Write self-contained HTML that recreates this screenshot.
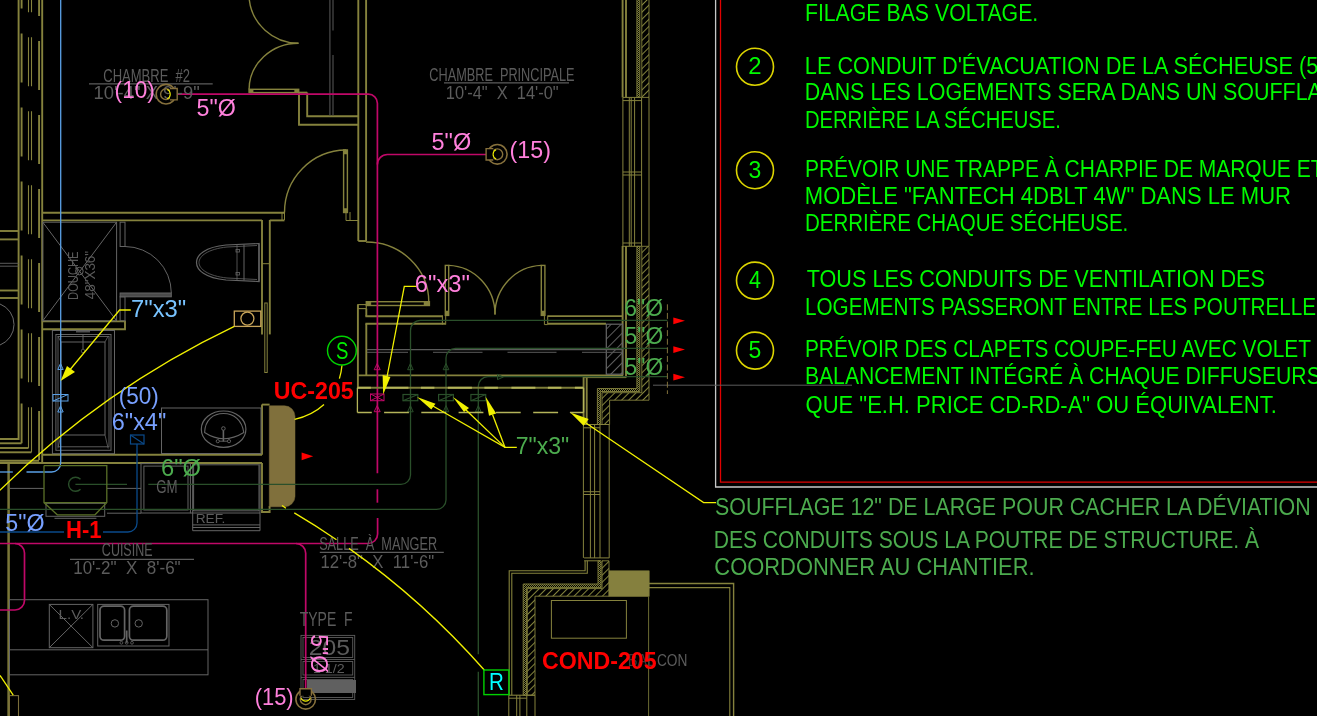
<!DOCTYPE html>
<html><head><meta charset="utf-8"><title>CAD</title>
<style>
html,body{margin:0;padding:0;background:#000;overflow:hidden}
svg{display:block;will-change:transform}
text{font-family:"Liberation Sans",sans-serif;white-space:pre}
</style></head><body>
<svg width="1317" height="716" viewBox="0 0 1317 716">
<rect x="0" y="0" width="1317" height="716" fill="#000"/>
<g id="notes">
<polyline points="715.6,0 715.6,487 1317,487" fill="none" stroke="#c8c8c8" stroke-width="1.3" />
<polyline points="720.5,0 720.5,482.2 1317,482.2" fill="none" stroke="#e00000" stroke-width="1.3" />
<line x1="653" y1="385.2" x2="852" y2="385.2" stroke="#5c5c5c" stroke-width="1" />
<text x="804.88" y="21" font-size="24.7" fill="#00fa00" font-weight="normal" textLength="233.38" lengthAdjust="spacingAndGlyphs" >FILAGE BAS VOLTAGE.</text>
<text x="804.84" y="74" font-size="24.7" fill="#00fa00" font-weight="normal" textLength="551.25" lengthAdjust="spacingAndGlyphs" >LE CONDUIT D'ÉVACUATION DE LA SÉCHEUSE (5" Ø)</text>
<text x="804.86" y="100" font-size="24.7" fill="#00fa00" font-weight="normal" textLength="548.02" lengthAdjust="spacingAndGlyphs" >DANS LES LOGEMENTS SERA DANS UN SOUFFLAGE</text>
<text x="804.96" y="128" font-size="24.7" fill="#00fa00" font-weight="normal" textLength="255.88" lengthAdjust="spacingAndGlyphs" >DERRIÈRE LA SÉCHEUSE.</text>
<text x="804.9" y="177" font-size="24.7" fill="#00fa00" font-weight="normal" textLength="518.62" lengthAdjust="spacingAndGlyphs" >PRÉVOIR UNE TRAPPE À CHARPIE DE MARQUE ET</text>
<text x="804.82" y="204" font-size="24.7" fill="#00fa00" font-weight="normal" textLength="486.19" lengthAdjust="spacingAndGlyphs" >MODÈLE "FANTECH 4DBLT 4W" DANS LE MUR</text>
<text x="804.94" y="231" font-size="24.7" fill="#00fa00" font-weight="normal" textLength="323.31" lengthAdjust="spacingAndGlyphs" >DERRIÈRE CHAQUE SÉCHEUSE.</text>
<text x="806.72" y="287" font-size="24.7" fill="#00fa00" font-weight="normal" textLength="458.26" lengthAdjust="spacingAndGlyphs" >TOUS LES CONDUITS DE VENTILATION DES</text>
<text x="804.92" y="315" font-size="24.7" fill="#00fa00" font-weight="normal" textLength="525.05" lengthAdjust="spacingAndGlyphs" >LOGEMENTS PASSERONT ENTRE LES POUTRELLES</text>
<text x="804.91" y="357" font-size="24.7" fill="#00fa00" font-weight="normal" textLength="506.06" lengthAdjust="spacingAndGlyphs" >PRÉVOIR DES CLAPETS COUPE-FEU AVEC VOLET</text>
<text x="804.89" y="384" font-size="24.7" fill="#00fa00" font-weight="normal" textLength="515.89" lengthAdjust="spacingAndGlyphs" >BALANCEMENT INTÉGRÉ À CHAQUE DIFFUSEURS</text>
<text x="805.58" y="413" font-size="24.7" fill="#00fa00" font-weight="normal" textLength="471.22" lengthAdjust="spacingAndGlyphs" >QUE "E.H. PRICE CD-RD-A" OU ÉQUIVALENT.</text>
<circle cx="755" cy="66.8" r="18.5" fill="none" stroke="#dcd400" stroke-width="1.6"/>
<text x="748.29" y="74.2" font-size="24.7" fill="#00fa00" font-weight="normal" textLength="13.31" lengthAdjust="spacingAndGlyphs" >2</text>
<circle cx="755" cy="170.2" r="18.5" fill="none" stroke="#dcd400" stroke-width="1.6"/>
<text x="748.61" y="177.6" font-size="24.7" fill="#00fa00" font-weight="normal" textLength="12.8" lengthAdjust="spacingAndGlyphs" >3</text>
<circle cx="755" cy="280.6" r="18.5" fill="none" stroke="#dcd400" stroke-width="1.6"/>
<text x="749.02" y="288.0" font-size="24.7" fill="#00fa00" font-weight="normal" textLength="11.98" lengthAdjust="spacingAndGlyphs" >4</text>
<circle cx="755" cy="350.6" r="18.5" fill="none" stroke="#dcd400" stroke-width="1.6"/>
<text x="748.57" y="358.0" font-size="24.7" fill="#00fa00" font-weight="normal" textLength="12.8" lengthAdjust="spacingAndGlyphs" >5</text>
<text x="715.02" y="514.5" font-size="24" fill="#4cab4e" font-weight="normal" textLength="595.71" lengthAdjust="spacingAndGlyphs" >SOUFFLAGE 12" DE LARGE POUR CACHER LA DÉVIATION</text>
<text x="713.69" y="547.8" font-size="24" fill="#4cab4e" font-weight="normal" textLength="545.37" lengthAdjust="spacingAndGlyphs" >DES CONDUITS SOUS LA POUTRE DE STRUCTURE. À</text>
<text x="714.3" y="574.5" font-size="24" fill="#4cab4e" font-weight="normal" textLength="320.36" lengthAdjust="spacingAndGlyphs" >COORDONNER AU CHANTIER.</text>
</g>
<g id="walls" fill="none">
<polyline points="18.6,0 18.6,439 0,439" fill="none" stroke="#85823d" stroke-width="1.9" />
<path d="M21.6,-40.5 V443.3" stroke="#85823d" stroke-width="1.9" stroke-dasharray="49 25"/>
<line x1="0" y1="443.3" x2="21.6" y2="443.3" stroke="#85823d" stroke-width="1.9" />
<path d="M28.5,-36.8 V448" stroke="#85823d" stroke-width="1.1" stroke-dasharray="49 25"/>
<line x1="0" y1="448" x2="28.5" y2="448" stroke="#85823d" stroke-width="1.9" />
<path d="M31.5,-36.8 V452.3" stroke="#85823d" stroke-width="1.1" stroke-dasharray="49 25"/>
<line x1="0" y1="452.3" x2="31.5" y2="452.3" stroke="#85823d" stroke-width="1.9" />
<path d="M39.1,-33 V460.8" stroke="#85823d" stroke-width="1.9" stroke-dasharray="49 25"/>
<line x1="0" y1="460.8" x2="39.1" y2="460.8" stroke="#85823d" stroke-width="1.9" />
<polyline points="42.2,0 42.2,463" fill="none" stroke="#85823d" stroke-width="1.9" />
<line x1="0" y1="231" x2="18.5" y2="231" stroke="#85823d" stroke-width="1.9" />
<line x1="0" y1="239.4" x2="18.5" y2="239.4" stroke="#85823d" stroke-width="1.9" />
<line x1="0" y1="290.5" x2="18.5" y2="290.5" stroke="#85823d" stroke-width="1.9" />
<line x1="0" y1="298" x2="18.5" y2="298" stroke="#85823d" stroke-width="1.9" />
<line x1="0" y1="263.3" x2="18.5" y2="263.3" stroke="#5a5a5a" stroke-width="1" />
<line x1="0" y1="266.2" x2="18.5" y2="266.2" stroke="#5a5a5a" stroke-width="1" />
<path d="M0,304 A22,22 0 0 1 0,345" fill="none" stroke="#6a6a6a" stroke-width="1" />
<line x1="8.6" y1="463" x2="8.6" y2="716" stroke="#7a7638" stroke-width="2.5" />
<rect x="9.4" y="695.6" width="9.1" height="30" fill="none" stroke="#7a6e3a" stroke-width="1.1" />
<polyline points="42,212.7 284.5,212.7" fill="none" stroke="#85823d" stroke-width="1.9" />
<polyline points="42,220.4 262,220.4" fill="none" stroke="#85823d" stroke-width="1.9" />
<line x1="269.8" y1="220.4" x2="284.5" y2="220.4" stroke="#85823d" stroke-width="1.9" />
<polyline points="282,212 282,220" fill="none" stroke="#85823d" stroke-width="1" />
<line x1="284.5" y1="212" x2="284.5" y2="220" stroke="#85823d" stroke-width="1" />
<polyline points="262,220 262,334.4" fill="none" stroke="#85823d" stroke-width="1.9" />
<polyline points="262,404.6 262,454.8" fill="none" stroke="#85823d" stroke-width="1.9" />
<polyline points="269.8,220 269.8,334.4" fill="none" stroke="#85823d" stroke-width="1.9" />
<line x1="262" y1="263.7" x2="269.8" y2="263.7" stroke="#85823d" stroke-width="1" />
<rect x="264.8" y="303" width="2.4" height="69.5" fill="none" stroke="#85823d" stroke-width="1" />
<polyline points="42,321.4 125,321.4 125,329.2 42,329.2" fill="none" stroke="#85823d" stroke-width="1.9" />
<line x1="42" y1="454.8" x2="262" y2="454.8" stroke="#85823d" stroke-width="1.9" />
<line x1="0" y1="463" x2="262" y2="463" stroke="#85823d" stroke-width="1.9" />
<polyline points="262,463 262,512 269.6,512 269.6,506" fill="none" stroke="#85823d" stroke-width="1.9" />
<polyline points="262,404.6 269.6,404.6" fill="none" stroke="#85823d" stroke-width="1.9" />
<line x1="358.3" y1="0" x2="358.3" y2="241" stroke="#85823d" stroke-width="1.9" />
<line x1="366.1" y1="0" x2="366.1" y2="241" stroke="#85823d" stroke-width="1.9" />
<line x1="358.3" y1="241" x2="366.1" y2="241" stroke="#85823d" stroke-width="1.9" />
<path d="M362,0 V236" stroke="#000" stroke-width="0"/>
<polyline points="299,92.6 299,124.8 358.3,124.8" fill="none" stroke="#85823d" stroke-width="1.9" />
<polyline points="307.2,92.6 307.2,116.2 358.3,116.2" fill="none" stroke="#85823d" stroke-width="1.9" />
<line x1="329.9" y1="0" x2="329.9" y2="115.5" stroke="#4c4c4c" stroke-width="1.2" />
<line x1="333" y1="0" x2="333" y2="30.5" stroke="#4c4c4c" stroke-width="1.2" />
<line x1="333" y1="55" x2="333" y2="115.5" stroke="#4c4c4c" stroke-width="1.2" />
<rect x="249.1" y="89.3" width="49.6" height="3.3" fill="none" stroke="#85823d" stroke-width="1.4" />
<rect x="249.1" y="89.3" width="4" height="3.3" fill="#85823d" stroke="#85823d" stroke-width="0.5" />
<rect x="294.7" y="89.3" width="4" height="3.3" fill="#85823d" stroke="#85823d" stroke-width="0.5" />
<line x1="298.7" y1="92.6" x2="307.2" y2="92.6" stroke="#85823d" stroke-width="1.9" />
<path d="M249.1,-2 A49.4,49.4 0 0 0 298.5,43.2" fill="none" stroke="#85823d" stroke-width="1.4" />
<path d="M298.5,43.2 A49.4,46.2 0 0 0 249.1,89.3" fill="none" stroke="#85823d" stroke-width="1.4" />
<rect x="343.6" y="150" width="3.8" height="62.5" fill="none" stroke="#85823d" stroke-width="1.4" />
<rect x="343.6" y="150" width="3.8" height="4" fill="#85823d" stroke="#85823d" stroke-width="0.5" />
<rect x="343.6" y="208.5" width="3.8" height="4" fill="#85823d" stroke="#85823d" stroke-width="0.5" />
<path d="M346,150 A62,62.5 0 0 0 284.5,212.5" fill="none" stroke="#85823d" stroke-width="1.4" />
<polyline points="346,212 346,220.5 358,220.5" fill="none" stroke="#85823d" stroke-width="1" />
<line x1="350" y1="212" x2="350" y2="220.5" stroke="#85823d" stroke-width="1" />
<path d="M366,242 A62.5,60 0 0 1 428.8,302" fill="none" stroke="#85823d" stroke-width="1.4" />
<rect x="366.3" y="301.7" width="63.1" height="3.8" fill="none" stroke="#85823d" stroke-width="1.4" />
<rect x="366.3" y="301.7" width="4.6" height="3.8" fill="#85823d" stroke="#85823d" stroke-width="0.5" />
<rect x="424" y="301.7" width="5.4" height="3.8" fill="#85823d" stroke="#85823d" stroke-width="0.5" />
<rect x="357.9" y="304.6" width="8.4" height="4" fill="none" stroke="#85823d" stroke-width="1.1" />
<line x1="357.9" y1="304.6" x2="357.9" y2="388" stroke="#85823d" stroke-width="1.9" />
<line x1="366.3" y1="308.6" x2="366.3" y2="316.3" stroke="#85823d" stroke-width="1.9" />
<line x1="365.4" y1="316.3" x2="443" y2="316.3" stroke="#85823d" stroke-width="1.9" />
<line x1="365.4" y1="323.8" x2="445.7" y2="323.8" stroke="#85823d" stroke-width="1.9" />
<line x1="442.4" y1="316.3" x2="442.4" y2="324.6" stroke="#85823d" stroke-width="1" />
<line x1="445.7" y1="315" x2="445.7" y2="324.6" stroke="#85823d" stroke-width="1" />
<line x1="366.3" y1="323.8" x2="366.3" y2="375.3" stroke="#85823d" stroke-width="1.9" />
<rect x="445.3" y="265.4" width="3.4" height="50" fill="none" stroke="#85823d" stroke-width="1.4" />
<rect x="541.3" y="265.4" width="3.6" height="50" fill="none" stroke="#85823d" stroke-width="1.4" />
<rect x="445.3" y="311" width="3.4" height="4.5" fill="#85823d" stroke="#85823d" stroke-width="0.5" />
<rect x="541.3" y="311" width="3.6" height="4.5" fill="#85823d" stroke="#85823d" stroke-width="0.5" />
<path d="M448.6,265.4 A48,49 0 0 1 495,314.4" fill="none" stroke="#85823d" stroke-width="1.4" />
<path d="M541.4,265.4 A48,49 0 0 0 495,314.4" fill="none" stroke="#85823d" stroke-width="1.4" />
<line x1="547.7" y1="316.1" x2="622.7" y2="316.1" stroke="#85823d" stroke-width="1.9" />
<line x1="547.7" y1="323.8" x2="606" y2="323.8" stroke="#85823d" stroke-width="1.9" />
<polyline points="544.4,315.5 544.4,324.6 547.7,324.6 547.7,315.5" fill="none" stroke="#85823d" stroke-width="1" />
<line x1="622.6" y1="0" x2="622.6" y2="97.4" stroke="#85823d" stroke-width="1.9" />
<line x1="626" y1="0" x2="626" y2="97.4" stroke="#85823d" stroke-width="1.9" />
<line x1="622.6" y1="246" x2="622.6" y2="375.5" stroke="#85823d" stroke-width="1.9" />
<line x1="626" y1="246" x2="626" y2="377.5" stroke="#85823d" stroke-width="1.9" />
<line x1="358" y1="375.3" x2="623" y2="375.3" stroke="#85823d" stroke-width="1.7" />
<line x1="583.6" y1="377.6" x2="626" y2="377.6" stroke="#85823d" stroke-width="1" />
<line x1="583.6" y1="375" x2="583.6" y2="424.5" stroke="#85823d" stroke-width="1.9" />
<line x1="586.7" y1="377.6" x2="586.7" y2="424.5" stroke="#85823d" stroke-width="1.9" />
</g>
<defs>
<pattern id="hatch" width="5" height="5" patternUnits="userSpaceOnUse" patternTransform="rotate(-45)">
<line x1="0" y1="2.5" x2="5" y2="2.5" stroke="#85853d" stroke-width="1"/></pattern>
<pattern id="stip" width="2" height="2" patternUnits="userSpaceOnUse">
<rect x="0" y="0" width="1" height="1" fill="#7c7c3c"/><rect x="1" y="1" width="1" height="1" fill="#7c7c3c"/></pattern>
<pattern id="ghatch" width="7" height="7" patternUnits="userSpaceOnUse" patternTransform="rotate(-45)">
<line x1="0" y1="3.5" x2="7" y2="3.5" stroke="#5e5e5e" stroke-width="1"/></pattern>
</defs>
<g id="extwall">
<path d="M636.9,-2 H639.8 V97.4 H636.9 Z" fill="url(#stip)" stroke="#85823d" stroke-width="0.9"/>
<path d="M641.8,-2 H649 V97.4 H641.8 Z" fill="url(#hatch)" stroke="#85823d" stroke-width="0.9"/>
<line x1="622.9" y1="97.4" x2="622.9" y2="246" stroke="#85823d" stroke-width="1" />
<line x1="629.3" y1="97.4" x2="629.3" y2="246" stroke="#85823d" stroke-width="1" />
<line x1="631.2" y1="97.4" x2="631.2" y2="246" stroke="#85823d" stroke-width="1" />
<line x1="634.6" y1="97.4" x2="634.6" y2="246" stroke="#85823d" stroke-width="1" />
<line x1="641.6" y1="97.4" x2="641.6" y2="246" stroke="#85823d" stroke-width="1" />
<line x1="649" y1="97.4" x2="649" y2="246" stroke="#85823d" stroke-width="1" />
<line x1="622.9" y1="97.4" x2="641.6" y2="97.4" stroke="#85823d" stroke-width="1" />
<line x1="622.9" y1="100.6" x2="641.6" y2="100.6" stroke="#85823d" stroke-width="1" />
<line x1="622.9" y1="172" x2="641.6" y2="172" stroke="#85823d" stroke-width="1" />
<line x1="622.9" y1="175" x2="641.6" y2="175" stroke="#85823d" stroke-width="1" />
<line x1="622.9" y1="243" x2="641.6" y2="243" stroke="#85823d" stroke-width="1" />
<line x1="622.9" y1="246.3" x2="641.6" y2="246.3" stroke="#85823d" stroke-width="1" />
<path d="M636.9,246.3 H639.8 V391.5 H600.4 V424.5 H597.4 V388.5 H636.9 Z" fill="url(#stip)" stroke="#85823d" stroke-width="0.9"/>
<path d="M641.8,246.3 H649 V400.2 H609.6 V424.5 H602 V392.7 H641.8 Z" fill="url(#hatch)" stroke="#85823d" stroke-width="0.9"/>
<line x1="583.4" y1="424.5" x2="583.4" y2="557.9" stroke="#85823d" stroke-width="1" />
<line x1="590.4" y1="424.5" x2="590.4" y2="557.9" stroke="#85823d" stroke-width="1" />
<line x1="594.6" y1="424.5" x2="594.6" y2="557.9" stroke="#85823d" stroke-width="1" />
<line x1="600" y1="424.5" x2="600" y2="557.9" stroke="#85823d" stroke-width="1" />
<line x1="609.2" y1="424.5" x2="609.2" y2="557.9" stroke="#85823d" stroke-width="1" />
<line x1="583.4" y1="424.5" x2="609.2" y2="424.5" stroke="#85823d" stroke-width="1" />
<line x1="583.4" y1="427.8" x2="600" y2="427.8" stroke="#85823d" stroke-width="1" />
<line x1="584.1" y1="557.9" x2="609.3" y2="557.9" stroke="#85823d" stroke-width="1" />
<line x1="584.1" y1="560.8" x2="600" y2="560.8" stroke="#85823d" stroke-width="1" />
<polyline points="585.1,560.8 585.1,570.8 509.2,570.8 509.2,695.2" fill="none" stroke="#85823d" stroke-width="1.1" />
<polyline points="587.3,560.8 587.3,573.3 511.8,573.3 511.8,695.2" fill="none" stroke="#85823d" stroke-width="1.1" />
<path d="M598,560.8 H601 V587.6 H526.6 V695.2 H523.2 V584 H598 Z" fill="url(#stip)" stroke="#85823d" stroke-width="0.9"/>
<path d="M602,560.8 H609 V596.2 H535 V695.2 H527.3 V588.6 H602 Z" fill="url(#hatch)" stroke="#85823d" stroke-width="0.9"/>
<rect x="609" y="570.8" width="40.2" height="25.7" fill="#85803e" stroke="#85803e" stroke-width="0.5" />
<polyline points="649,583.5 733.6,583.5 733.6,716" fill="none" stroke="#85823d" stroke-width="1.4" />
<polyline points="649,587.6 729.8,587.6 729.8,716" fill="none" stroke="#85823d" stroke-width="1.1" />
<line x1="648.6" y1="596.5" x2="648.6" y2="716" stroke="#6a6a32" stroke-width="1" />
<rect x="551.4" y="600.5" width="75" height="37.7" fill="none" stroke="#85823d" stroke-width="1" />
<line x1="508.8" y1="695.2" x2="508.8" y2="716" stroke="#85823d" stroke-width="1" />
<line x1="516.7" y1="695.2" x2="516.7" y2="716" stroke="#85823d" stroke-width="1" />
<line x1="519.9" y1="695.2" x2="519.9" y2="716" stroke="#85823d" stroke-width="1" />
<line x1="526.8" y1="695.2" x2="526.8" y2="716" stroke="#85823d" stroke-width="1" />
<line x1="535" y1="695.2" x2="535" y2="716" stroke="#85823d" stroke-width="1" />
<line x1="508.8" y1="695.2" x2="535" y2="695.2" stroke="#85823d" stroke-width="1.1" />
<line x1="508.8" y1="698.2" x2="526.8" y2="698.2" stroke="#85823d" stroke-width="1" />
</g>
<line x1="583.4" y1="491.7" x2="600" y2="491.7" stroke="#85823d" stroke-width="1" />
<line x1="583.4" y1="494.5" x2="600" y2="494.5" stroke="#85823d" stroke-width="1" />
<g id="fixtures">
<rect x="42.8" y="222.2" width="73.8" height="98.6" fill="none" stroke="#646464" stroke-width="1" />
<line x1="42.8" y1="222.2" x2="116.6" y2="320.8" stroke="#646464" stroke-width="1" />
<line x1="116.6" y1="222.2" x2="42.8" y2="320.8" stroke="#646464" stroke-width="1" />
<circle cx="79.4" cy="271.1" r="3.8" fill="none" stroke="#646464" stroke-width="1"/>
<rect x="120.1" y="222.2" width="4.9" height="24.3" fill="none" stroke="#646464" stroke-width="1" />
<rect x="120.1" y="296.8" width="4.9" height="24" fill="none" stroke="#646464" stroke-width="1" />
<path d="M125,246.5 A46.5,46.5 0 0 1 171.3,293" fill="none" stroke="#646464" stroke-width="1" />
<rect x="120.1" y="293" width="51.2" height="3.8" fill="#4a4a4a" stroke="#646464" stroke-width="1" />
<g transform="translate(78,299) rotate(-90)"><text x="-0.9" y="0" font-size="15.5" fill="#5a5a5a" textLength="48.35" lengthAdjust="spacingAndGlyphs">DOUCHE</text><text x="-0.3" y="16.7" font-size="15.5" fill="#5a5a5a" textLength="48.39" lengthAdjust="spacingAndGlyphs">48"X36"</text></g>
<path d="M259,243.5 L226,245 C205,247 196.5,255 196.5,262.5 C196.5,270 205,278 226,280 L259,281.5 Z" fill="none" stroke="#646464" stroke-width="1.2" />
<path d="M257,245.5 L227,247 C208,249 199,256 199,262.5 C199,269 208,276 227,278 L257,279.5" fill="none" stroke="#646464" stroke-width="0.8" />
<line x1="244" y1="244.5" x2="244" y2="280.5" stroke="#646464" stroke-width="1" />
<line x1="237" y1="245" x2="237" y2="280" stroke="#646464" stroke-width="0.8" />
<rect x="236" y="249.5" width="3.5" height="2.5" fill="none" stroke="#646464" stroke-width="0.8" />
<rect x="236" y="272.5" width="3.5" height="2.5" fill="none" stroke="#646464" stroke-width="0.8" />
<line x1="259" y1="243.5" x2="259" y2="281.5" stroke="#646464" stroke-width="1.2" />
<rect x="234.3" y="311.1" width="26.5" height="15.3" fill="none" stroke="#c8a55a" stroke-width="1.3" />
<circle cx="247.4" cy="318.6" r="6.5" fill="none" stroke="#c8a55a" stroke-width="1.3"/>
<rect x="52.4" y="330.5" width="62.1" height="123.2" fill="none" stroke="#646464" stroke-width="1" />
<rect x="55.9" y="334.5" width="55.1" height="115.8" fill="none" stroke="#646464" stroke-width="1" />
<rect x="58" y="336.5" width="51" height="110.3" fill="none" stroke="#646464" stroke-width="0.9" />
<polyline points="61,342 105,342 105,435 61,435 61,342" fill="none" stroke="#646464" stroke-width="1" />
<line x1="57.8" y1="336" x2="61" y2="342" stroke="#646464" stroke-width="0.8" />
<line x1="108.2" y1="336" x2="105" y2="342" stroke="#646464" stroke-width="0.8" />
<line x1="57.8" y1="448.5" x2="61" y2="435" stroke="#646464" stroke-width="0.8" />
<line x1="108.2" y1="448.5" x2="105" y2="435" stroke="#646464" stroke-width="0.8" />
<line x1="83" y1="334.5" x2="83" y2="349" stroke="#646464" stroke-width="1" />
<circle cx="83" cy="351" r="1.8" fill="none" stroke="#646464" stroke-width="0.8"/>
<line x1="76" y1="331.8" x2="90" y2="331.8" stroke="#646464" stroke-width="1.2" />
<rect x="161.5" y="408" width="99.5" height="45.5" fill="none" stroke="#646464" stroke-width="1" />
<ellipse cx="223.6" cy="429.2" rx="22.3" ry="18.2" fill="none" stroke="#646464" stroke-width="1.2"/>
<path d="M204.6,432.5 C205,420 213,413.5 223.6,413.5 C234,413.5 242,420 243.8,432.5 Q223.6,445 204.6,432.5 Z" fill="none" stroke="#646464" stroke-width="1.1" />
<circle cx="223.4" cy="428.5" r="1.8" fill="none" stroke="#646464" stroke-width="1"/>
<line x1="223.4" y1="430.3" x2="223.4" y2="441.5" stroke="#646464" stroke-width="1.6" />
<circle cx="217.8" cy="441.2" r="1.6" fill="none" stroke="#646464" stroke-width="0.9"/>
<circle cx="229" cy="441.2" r="1.6" fill="none" stroke="#646464" stroke-width="0.9"/>
<line x1="219.4" y1="441.2" x2="227.4" y2="441.2" stroke="#646464" stroke-width="0.9" />
<line x1="9.8" y1="488.4" x2="44" y2="488.4" stroke="#646464" stroke-width="1" />
<line x1="107" y1="488.4" x2="141" y2="488.4" stroke="#646464" stroke-width="1" />
<line x1="107" y1="513.2" x2="141" y2="513.2" stroke="#646464" stroke-width="1" />
<rect x="141" y="463.6" width="49.4" height="49.4" fill="none" stroke="#646464" stroke-width="1" />
<rect x="143.9" y="466.1" width="44.1" height="43.9" fill="none" stroke="#646464" stroke-width="1" />
<line x1="192.7" y1="463.6" x2="192.7" y2="530.7" stroke="#646464" stroke-width="1" />
<rect x="193.6" y="464.8" width="65.4" height="46" fill="none" stroke="#646464" stroke-width="1" />
<polyline points="190.4,513 260,513 260,530.7 192.7,530.7" fill="none" stroke="#646464" stroke-width="1" />
<line x1="192.7" y1="524.9" x2="260" y2="524.9" stroke="#646464" stroke-width="1" />
<line x1="192.7" y1="527.5" x2="260" y2="527.5" stroke="#646464" stroke-width="1" />
<line x1="260" y1="463.6" x2="260" y2="513" stroke="#646464" stroke-width="1" />
<rect x="46" y="503.3" width="58.7" height="13" fill="none" stroke="#646464" stroke-width="1" />
<line x1="54.5" y1="518.3" x2="96.4" y2="518.3" stroke="#646464" stroke-width="1" />
<rect x="9.5" y="599.7" width="198.5" height="75.1" fill="none" stroke="#646464" stroke-width="1" />
<line x1="9.5" y1="649.8" x2="208" y2="649.8" stroke="#646464" stroke-width="1" />
<rect x="49.3" y="604.4" width="43.6" height="43.3" fill="none" stroke="#646464" stroke-width="1" />
<line x1="49.3" y1="604.4" x2="92.9" y2="647.7" stroke="#646464" stroke-width="1" />
<line x1="92.9" y1="604.4" x2="49.3" y2="647.7" stroke="#646464" stroke-width="1" />
<rect x="97.7" y="604.4" width="71.3" height="41.6" fill="none" stroke="#646464" stroke-width="1" />
<rect x="100" y="606.2" width="24.6" height="34" rx="4" fill="none" stroke="#646464" stroke-width="1.7"/>
<rect x="129.4" y="606.2" width="37.4" height="34" rx="4" fill="none" stroke="#646464" stroke-width="1.7"/>
<circle cx="114.9" cy="623.4" r="3.7" fill="none" stroke="#646464" stroke-width="1"/>
<circle cx="138.7" cy="623.4" r="3.7" fill="none" stroke="#646464" stroke-width="1"/>
<line x1="126.7" y1="630.5" x2="126.7" y2="642.8" stroke="#646464" stroke-width="1.7" />
<circle cx="121.4" cy="642.8" r="1.4" fill="none" stroke="#646464" stroke-width="0.8"/>
<circle cx="126.7" cy="642.8" r="1.4" fill="none" stroke="#646464" stroke-width="0.8"/>
<circle cx="132" cy="642.8" r="1.4" fill="none" stroke="#646464" stroke-width="0.8"/>
<rect x="301" y="635.4" width="53.7" height="64.1" fill="none" stroke="#5c5c5c" stroke-width="0.9" />
<rect x="303" y="637.5" width="49.7" height="20" fill="none" stroke="#5c5c5c" stroke-width="0.9" />
<rect x="303" y="661.5" width="49.7" height="13.5" fill="none" stroke="#5c5c5c" stroke-width="0.9" />
<rect x="303" y="679.6" width="49.7" height="17.9" fill="none" stroke="#5c5c5c" stroke-width="0.9" />
<line x1="301" y1="659.5" x2="354.7" y2="659.5" stroke="#5c5c5c" stroke-width="0.9" />
<line x1="301" y1="677.4" x2="354.7" y2="677.4" stroke="#5c5c5c" stroke-width="0.9" />
<rect x="307" y="680" width="49" height="13" fill="#606060" stroke="#5e5e5e" stroke-width="0" />
<rect x="606.3" y="324.2" width="16.2" height="50" fill="url(#ghatch)" stroke="#666" stroke-width="1.2" />
<line x1="367" y1="349.7" x2="623" y2="349.7" stroke="#5a5a5a" stroke-width="1.3" />
<path d="M367,352.3 H622" stroke="#5a5a5a" stroke-width="1" stroke-dasharray="41 25 49.5 25 49 25.5 40 0"/>
</g>
<g id="uc">
<path d="M269.3,405.8 H284.5 A10.5,10.5 0 0 1 295,416.3 V496.3 A10.5,10.5 0 0 1 284.5,506.8 H269.3 Z" fill="#80703c" stroke="#80703c" stroke-width="0.5" />
</g>
<g id="ducts" fill="none">
<path d="M177.2,94.2 H368.4 A9,9 0 0 1 377.4,103.2 V473.3" fill="none" stroke="#c00868" stroke-width="1.7" />
<path d="M486,154.5 H387.4 A10,10 0 0 0 377.4,164.5" fill="none" stroke="#c00868" stroke-width="1.7" />
<path d="M377.4,489.3 V502.7" fill="none" stroke="#c00868" stroke-width="1.7" />
<path d="M377.6,518 V534 A9.5,9.5 0 0 1 368,543.5 H0" fill="none" stroke="#c00868" stroke-width="1.7" />
<path d="M296,543.5 A9.7,9.7 0 0 1 305.7,553.2 V692" fill="none" stroke="#c00868" stroke-width="1.7" />
<path d="M15,543.5 A9.5,9.5 0 0 1 24.5,553 V600.5 A9.5,9.5 0 0 1 15,610 H0" fill="none" stroke="#c00868" stroke-width="1.7" />
<rect x="370.5" y="394" width="13.5" height="6.7" fill="none" stroke="#c00868" stroke-width="1" />
<line x1="370.5" y1="394" x2="384" y2="400.7" stroke="#c00868" stroke-width="1" />
<line x1="384" y1="394" x2="370.5" y2="400.7" stroke="#c00868" stroke-width="1" />
<polyline points="377.2,363.5 374.2,369.7 380.2,369.7 377.2,363.5" fill="none" stroke="#c00868" stroke-width="1" />
<polyline points="377.2,405.5 374.2,411.7 380.2,411.7 377.2,405.5" fill="none" stroke="#c00868" stroke-width="1" />
<path d="M60.7,0 V463 A9,9 0 0 1 51.7,472 H26.5" fill="none" stroke="#5aa0e6" stroke-width="1.3" />
<line x1="0" y1="472" x2="12.8" y2="472" stroke="#5aa0e6" stroke-width="1.3" />
<rect x="53" y="394.5" width="15" height="6.5" fill="none" stroke="#5aa0e6" stroke-width="1" />
<line x1="53" y1="401" x2="68" y2="394.5" stroke="#5aa0e6" stroke-width="1" />
<polyline points="60.5,363.5 57.8,369.5 63.2,369.5 60.5,363.5" fill="none" stroke="#5aa0e6" stroke-width="1" />
<polyline points="60.5,406 57.8,412 63.2,412 60.5,406" fill="none" stroke="#5aa0e6" stroke-width="1" />
<path d="M137,444 V523 A9,9 0 0 1 128,532 H103" fill="none" stroke="#0a4a8a" stroke-width="1.3" />
<line x1="0" y1="532" x2="64" y2="532" stroke="#0a4a8a" stroke-width="1.3" />
<rect x="130.5" y="435" width="13.5" height="9" fill="none" stroke="#0a4a8a" stroke-width="1.2" />
<line x1="130.5" y1="435" x2="144" y2="444" stroke="#0a4a8a" stroke-width="1.2" />
<path d="M667.4,320.4 H420.5 A10,10 0 0 0 410.5,330.4 V475 A9.5,9.5 0 0 1 401,484.4 H148.3" fill="none" stroke="#2a4f2a" stroke-width="1.3" />
<line x1="75.4" y1="484.4" x2="127" y2="484.4" stroke="#2a4f2a" stroke-width="1.3" />
<path d="M667.4,348.4 H455.5 A9.5,9.5 0 0 0 446,357.9 V500 A9.5,9.5 0 0 1 436.5,509.4 H0" fill="none" stroke="#2a4f2a" stroke-width="1.3" />
<path d="M667.4,376.6 H488 A9.7,9.7 0 0 0 478.3,386.3 V654.3 M478.3,671.8 V716" fill="none" stroke="#2a4f2a" stroke-width="1.3" />
<path d="M80.5,479.2 A7,7 0 1 0 80.5,489.2" fill="none" stroke="#2a4f2a" stroke-width="1.4" />
<rect x="403.0" y="394.5" width="14.8" height="6.2" fill="none" stroke="#2a4f2a" stroke-width="1.2" />
<line x1="403.0" y1="400.7" x2="417.79999999999995" y2="394.5" stroke="#2a4f2a" stroke-width="1.2" />
<polyline points="410.4,405.6 407.59999999999997,411.8 413.2,411.8 410.4,405.6" fill="none" stroke="#2a4f2a" stroke-width="1" />
<rect x="438.6" y="394.5" width="14.8" height="6.2" fill="none" stroke="#2a4f2a" stroke-width="1.2" />
<line x1="438.6" y1="400.7" x2="453.4" y2="394.5" stroke="#2a4f2a" stroke-width="1.2" />
<polyline points="446,405.6 443.2,411.8 448.8,411.8 446,405.6" fill="none" stroke="#2a4f2a" stroke-width="1" />
<rect x="470.90000000000003" y="394.5" width="14.8" height="6.2" fill="none" stroke="#2a4f2a" stroke-width="1.2" />
<line x1="470.90000000000003" y1="400.7" x2="485.7" y2="394.5" stroke="#2a4f2a" stroke-width="1.2" />
<polyline points="478.3,405.6 475.5,411.8 481.1,411.8 478.3,405.6" fill="none" stroke="#2a4f2a" stroke-width="1" />
<polyline points="410.4,363.5 407.59999999999997,369.7 413.2,369.7 410.4,363.5" fill="none" stroke="#2a4f2a" stroke-width="1" />
<polyline points="446,363.5 443.2,369.7 448.8,369.7 446,363.5" fill="none" stroke="#2a4f2a" stroke-width="1" />
<polyline points="503.3,377 497.5,374.4 497.5,379.6 503.3,377" fill="none" stroke="#2a4f2a" stroke-width="1" />
<polyline points="44,465.6 106.8,465.6 106.8,502.6 95,514.8 57.3,514.8 44,502.6 44,465.6" fill="none" stroke="#5a7028" stroke-width="1.3" />
<line x1="44" y1="502.6" x2="106.8" y2="502.6" stroke="#5a7028" stroke-width="1.3" />
<path d="M667.4,304.3 V394" stroke="#80703c" stroke-width="1" stroke-dasharray="6 2.6"/>
<polygon points="673.3,317.40000000000003 685,320.8 673.3,324.2" fill="#ff0000"/>
<polygon points="673.3,346.20000000000005 685,349.6 673.3,353.0" fill="#ff0000"/>
<polygon points="673.3,373.8 685,377.2 673.3,380.59999999999997" fill="#ff0000"/>
<polygon points="301.6,452.4 313.2,456.3 301.6,460.2" fill="#ff0000"/>
</g>
<g id="souf" fill="none">
<line x1="357.4" y1="387.8" x2="583.6" y2="387.8" stroke="#7c7c38" stroke-width="2" />
<path d="M357.4,387.8 H583.6" stroke="#b4b45a" stroke-width="2" stroke-dasharray="13.5 13.5 24 12.5"/>
<line x1="357.4" y1="387.8" x2="357.4" y2="412.5" stroke="#b4b45a" stroke-width="1.3" />
<line x1="583.6" y1="387.8" x2="583.6" y2="412.5" stroke="#b4b45a" stroke-width="1.3" />
<path d="M357.4,412.5 H583.6" stroke="#b4b45a" stroke-width="1.3" stroke-dasharray="14.4 12.3 24.8 12.4 24.8 12.5 24.8 12.5 24.8 12.5 24.9 11.8 13.8 0"/>
</g>
<g id="rooms">
<text x="103.34" y="81.9" font-size="17.7" fill="#5c5c5c" font-weight="normal" textLength="86.71" lengthAdjust="spacingAndGlyphs" >CHAMBRE  #2</text>
<line x1="89" y1="83.9" x2="212.7" y2="83.9" stroke="#5c5c5c" stroke-width="1.3" />
<text x="93.59" y="99" font-size="17.7" fill="#5c5c5c" font-weight="normal" textLength="106.16" lengthAdjust="spacingAndGlyphs" >10'-4" X 9'-9"</text>
<text x="429.35" y="81.3" font-size="17.7" fill="#5c5c5c" font-weight="normal" textLength="145.2" lengthAdjust="spacingAndGlyphs" >CHAMBRE  PRINCIPALE</text>
<line x1="444" y1="82.8" x2="569" y2="82.8" stroke="#5c5c5c" stroke-width="1.3" />
<text x="445.75" y="99.3" font-size="17.7" fill="#5c5c5c" font-weight="normal" textLength="112.95" lengthAdjust="spacingAndGlyphs" >10'-4"  X  14'-0"</text>
<text x="101.86" y="556.3" font-size="17.7" fill="#5c5c5c" font-weight="normal" textLength="50.66" lengthAdjust="spacingAndGlyphs" >CUISINE</text>
<line x1="70" y1="559.3" x2="194" y2="559.3" stroke="#5c5c5c" stroke-width="1.3" />
<text x="73.2" y="574" font-size="17.7" fill="#5c5c5c" font-weight="normal" textLength="107.48" lengthAdjust="spacingAndGlyphs" >10'-2"  X  8'-6"</text>
<text x="319.13" y="550.2" font-size="17.7" fill="#5c5c5c" font-weight="normal" textLength="118.06" lengthAdjust="spacingAndGlyphs" >SALLE  À  MANGER</text>
<line x1="319.8" y1="552.4" x2="443.8" y2="552.4" stroke="#5c5c5c" stroke-width="1.3" />
<text x="320.42" y="567.6" font-size="17.7" fill="#5c5c5c" font-weight="normal" textLength="113.78" lengthAdjust="spacingAndGlyphs" >12'-8"  X  11'-6"</text>
<text x="299.71" y="626" font-size="19.3" fill="#5c5c5c" font-weight="normal" textLength="52.81" lengthAdjust="spacingAndGlyphs" >TYPE  F</text>
<text x="308.75" y="655" font-size="21.8" fill="#5c5c5c" font-weight="normal" textLength="41.24" lengthAdjust="spacingAndGlyphs" >205</text>
<text x="312.96" y="673.3" font-size="13" fill="#5c5c5c" font-weight="normal" textLength="31.71" lengthAdjust="spacingAndGlyphs" >1 1/2</text>
<text x="156.13" y="493" font-size="17.9" fill="#5c5c5c" font-weight="normal" textLength="21.37" lengthAdjust="spacingAndGlyphs" >GM</text>
<text x="195.7" y="522.9" font-size="13.7" fill="#5c5c5c" font-weight="normal" textLength="29.74" lengthAdjust="spacingAndGlyphs" >REF.</text>
<text x="58.57" y="618.7" font-size="13.5" fill="#5c5c5c" font-weight="normal" textLength="25.5" lengthAdjust="spacingAndGlyphs" >L.V.</text>
<text x="656.93" y="665.5" font-size="17.4" fill="#5c5c5c" font-weight="normal" textLength="30.49" lengthAdjust="spacingAndGlyphs" >CON</text>
<text x="627.82" y="665.5" font-size="17.4" fill="#3a3a3a" font-weight="normal" textLength="27.67" lengthAdjust="spacingAndGlyphs" >BAL</text>
</g>
<g id="leaders" fill="none">
<polyline points="130.8,310 119.6,310 66,374.5" fill="none" stroke="#f0f000" stroke-width="1.3" />
<polygon points="60.5,381 67,366 75,372" fill="#f0f000"/>
<path d="M234.3,326.4 A874.5,874.5 0 0 0 -2,492" fill="none" stroke="#f0f000" stroke-width="1.3" />
<path d="M324,404.5 Q312,415.5 294.6,419.4" fill="none" stroke="#f0f000" stroke-width="1.3" />
<path d="M342,365.2 Q341.4,372 339.4,378.6" fill="none" stroke="#f0f000" stroke-width="1.3" />
<polyline points="416.4,286.3 404.3,286.3 387,377" fill="none" stroke="#f0f000" stroke-width="1.3" />
<polygon points="383.2,394.6 382.6,375 390.4,377" fill="#f0f000"/>
<polyline points="516.8,447.4 505,447.4 432,405.5" fill="none" stroke="#f0f000" stroke-width="1.3" />
<polyline points="505,447.4 466,410" fill="none" stroke="#f0f000" stroke-width="1.3" />
<polyline points="505,447.4 492.5,414.5" fill="none" stroke="#f0f000" stroke-width="1.3" />
<polygon points="417,397 435.5,403.7 431.3,409.6" fill="#f0f000"/>
<polygon points="453,397 469,408 464,412" fill="#f0f000"/>
<polygon points="485.6,396.8 496.2,413.6 489,415.7" fill="#f0f000"/>
<polyline points="716,502.6 703.6,502.6 584,421.8" fill="none" stroke="#f0f000" stroke-width="1.3" />
<polygon points="570.3,412.4 588.7,419 583.6,425.8" fill="#f0f000"/>
<path d="M282,505.5 A786.5,786.5 0 0 1 285.9,508.3" fill="none" stroke="#f0f000" stroke-width="1.3" />
<path d="M294.3,512.9 A786.5,786.5 0 0 1 336.5,539.7" fill="none" stroke="#f0f000" stroke-width="1.3" />
<path d="M349,548.4 A786.5,786.5 0 0 1 484.5,670.3" fill="none" stroke="#f0f000" stroke-width="1.3" />
<line x1="0" y1="675.4" x2="13.2" y2="695.2" stroke="#f0f000" stroke-width="1.3" />
</g>
<g id="symbols" fill="none">
<circle cx="166" cy="94.2" r="9.8" fill="none" stroke="#86703c" stroke-width="1.6"/>
<circle cx="166" cy="94.2" r="5.4" fill="none" stroke="#86703c" stroke-width="1.4"/>
<path d="M170,88.5 H177.2 V99.9 H170 Z" fill="#000" stroke="none"/>
<path d="M170,88.5 H177.2 V99.9 H170" fill="none" stroke="#86703c" stroke-width="1.4" />
<path d="M167.2,89.60000000000001 A5,5 0 0 1 167.2,98.8" fill="none" stroke="#f0f000" stroke-width="1.1" />
<circle cx="497.3" cy="154.3" r="9.8" fill="none" stroke="#86703c" stroke-width="1.6"/>
<circle cx="497.3" cy="154.3" r="5.4" fill="none" stroke="#86703c" stroke-width="1.4"/>
<path d="M493.3,148.60000000000002 H486.1 V160.0 H493.3 Z" fill="#000" stroke="none"/>
<path d="M493.3,148.60000000000002 H486.1 V160.0 H493.3" fill="none" stroke="#86703c" stroke-width="1.4" />
<path d="M496.1,149.70000000000002 A5,5 0 0 0 496.1,158.9" fill="none" stroke="#f0f000" stroke-width="1.1" />
<circle cx="305.7" cy="699.3" r="9.8" fill="none" stroke="#86703c" stroke-width="1.6"/>
<circle cx="305.7" cy="699.3" r="5.4" fill="none" stroke="#86703c" stroke-width="1.4"/>
<path d="M300.0,695.8 V688.6999999999999 H311.4 V695.8 Z" fill="#000" stroke="none"/>
<path d="M300.0,695.8 V688.6999999999999 H311.4 V695.8" fill="none" stroke="#86703c" stroke-width="1.4" />
<path d="M301.09999999999997,698.0999999999999 A5,5 0 0 0 310.3,698.0999999999999" fill="none" stroke="#f0f000" stroke-width="1.1" />
<circle cx="341.9" cy="350.6" r="14.4" fill="none" stroke="#00d200" stroke-width="1.4"/>
<rect x="483.9" y="670" width="25" height="24.6" fill="none" stroke="#00d200" stroke-width="1.4" />
</g>
<g id="ctext">
<text x="114.61" y="98" font-size="23.7" fill="#ff80dc" font-weight="normal" textLength="40.27" lengthAdjust="spacingAndGlyphs" >(10)</text>
<text x="196.47" y="116" font-size="23.7" fill="#ff80dc" font-weight="normal" textLength="39.3" lengthAdjust="spacingAndGlyphs" >5"Ø</text>
<text x="431.56" y="149.7" font-size="23.7" fill="#ff80dc" font-weight="normal" textLength="39.71" lengthAdjust="spacingAndGlyphs" >5"Ø</text>
<text x="509.58" y="157.6" font-size="23.7" fill="#ff80dc" font-weight="normal" textLength="41.34" lengthAdjust="spacingAndGlyphs" >(15)</text>
<text x="254.66" y="705" font-size="23.7" fill="#ff80dc" font-weight="normal" textLength="38.98" lengthAdjust="spacingAndGlyphs" >(15)</text>
<text x="414.8" y="292.4" font-size="23.7" fill="#ff80dc" font-weight="normal" textLength="55.25" lengthAdjust="spacingAndGlyphs" >6"x3"</text>
<text transform="translate(311.3,635.2) rotate(90)" x="-0.93" y="0" font-size="23.7" fill="#ff80dc" textLength="38.98" lengthAdjust="spacingAndGlyphs">5"Ø</text>
<text x="131.0" y="316.7" font-size="23.7" fill="#78c3ff" font-weight="normal" textLength="55.25" lengthAdjust="spacingAndGlyphs" >7"x3"</text>
<text x="118.72" y="404" font-size="23.7" fill="#78a0ff" font-weight="normal" textLength="40.05" lengthAdjust="spacingAndGlyphs" >(50)</text>
<text x="111.81" y="430" font-size="23.7" fill="#78a0ff" font-weight="normal" textLength="54.41" lengthAdjust="spacingAndGlyphs" >6"x4"</text>
<text x="5.37" y="530.7" font-size="23.7" fill="#78a0ff" font-weight="normal" textLength="39.3" lengthAdjust="spacingAndGlyphs" >5"Ø</text>
<text x="161.0" y="476" font-size="23.7" fill="#4cab4e" font-weight="normal" textLength="40.08" lengthAdjust="spacingAndGlyphs" >6"Ø</text>
<text x="624.34" y="315.9" font-size="23.7" fill="#4cab4e" font-weight="normal" textLength="38.82" lengthAdjust="spacingAndGlyphs" >6"Ø</text>
<text x="624.58" y="343.7" font-size="23.7" fill="#4cab4e" font-weight="normal" textLength="38.56" lengthAdjust="spacingAndGlyphs" >5"Ø</text>
<text x="624.58" y="374.7" font-size="23.7" fill="#4cab4e" font-weight="normal" textLength="38.56" lengthAdjust="spacingAndGlyphs" >5"Ø</text>
<text x="515.63" y="453.8" font-size="23.7" fill="#4cab4e" font-weight="normal" textLength="53.58" lengthAdjust="spacingAndGlyphs" >7"x3"</text>
<text x="273.82" y="399" font-size="24.4" fill="#ff0000" font-weight="bold" textLength="79.92" lengthAdjust="spacingAndGlyphs" >UC-205</text>
<text x="66.05" y="537.5" font-size="24.4" fill="#ff0000" font-weight="bold" textLength="35.55" lengthAdjust="spacingAndGlyphs" >H-1</text>
<text x="542.05" y="669" font-size="24.4" fill="#ff0000" font-weight="bold" textLength="114.59" lengthAdjust="spacingAndGlyphs" >COND-205</text>
<text x="335.95" y="358.8" font-size="24" fill="#00ee00" font-weight="normal" textLength="12.41" lengthAdjust="spacingAndGlyphs" >S</text>
<text x="489.03" y="689.9" font-size="24" fill="#00ffff" font-weight="normal" textLength="14.84" lengthAdjust="spacingAndGlyphs" >R</text>
</g>
</svg>
</body></html>
